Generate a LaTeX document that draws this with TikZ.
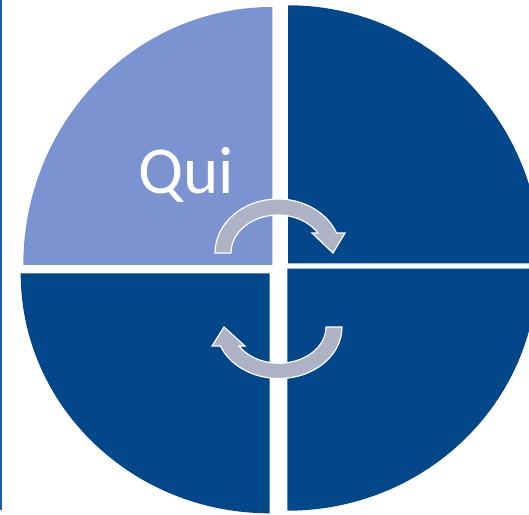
\documentclass[tikz,border=0pt]{standalone}
\usepackage{fontspec}
\setmainfont{Carlito}
\usepackage{tikz}
\definecolor{quadLight}{RGB}{123,147,209}
\definecolor{quadDark}{RGB}{1,71,137}
\definecolor{arrowGray}{RGB}{173,178,196}
\definecolor{edgeBlue}{RGB}{31,91,168}
\newcommand{\cycleArrowPath}{(-63,0) arc[start angle=180, end angle=21.7, x radius=63, y radius=54]
    -- (67,20) -- (55,0) -- (34,20) -- (39.9,20)
    arc[start angle=31.8, end angle=180, x radius=47, y radius=38] -- cycle}

\begin{document}
\begin{tikzpicture}[x=1pt, y=1pt]
        \tikzset{
           quadLightBox/.style={
                        fill=quadLight,
                        draw=none
                       },
           quadDarkBox/.style={
                        fill=quadDark,
                        draw=none
                       },
           cycleArrow/.style={
                        fill=arrowGray,
                        draw=white,
                        line width=1.2pt,
                        line join=miter
                       },
           quiLabel/.style={
                        text=white,
                        font=\fontsize{67}{80}\selectfont,
                        anchor=base,
                        inner sep=0pt
                       },
           edgeLine/.style={
                        draw=edgeBlue,
                        line width=1.5pt
                       },
                 };
    \useasboundingbox (0,0) rectangle (529,514);
    \clip (0,0) rectangle (529,514);
    %--------------------
        \fill[quadLightBox] (272.3,249) -- (23.3,249)
              arc[start angle=180, end angle=90, x radius=249, y radius=258] -- cycle;
        \fill[quadDarkBox]  (288,250.7) -- (288,508.7)
              arc[start angle=90, end angle=0, x radius=253, y radius=258] -- cycle;
        \fill[quadDarkBox]  (269.7,240.7) -- (20.7,240.7)
              arc[start angle=180, end angle=270, x radius=249, y radius=240] -- cycle;
        \fill[quadDarkBox]  (287.3,245.3) -- (287.3,3.3)
              arc[start angle=270, end angle=360, x radius=250, y radius=242] -- cycle;

        \node[quiLabel] (qui) at (186,320.5) {Qui};
    %--------------------
        \begin{scope}[shift={(278,261)}]
            \filldraw[cycleArrow] \cycleArrowPath;
        \end{scope}
        \begin{scope}[shift={(279,187)}, rotate=180, yscale=0.954]
            \filldraw[cycleArrow] \cycleArrowPath;
        \end{scope}

        \draw[edgeLine] (0.75,514) -- (0.75,4);
    \end{tikzpicture}
\end{document}
